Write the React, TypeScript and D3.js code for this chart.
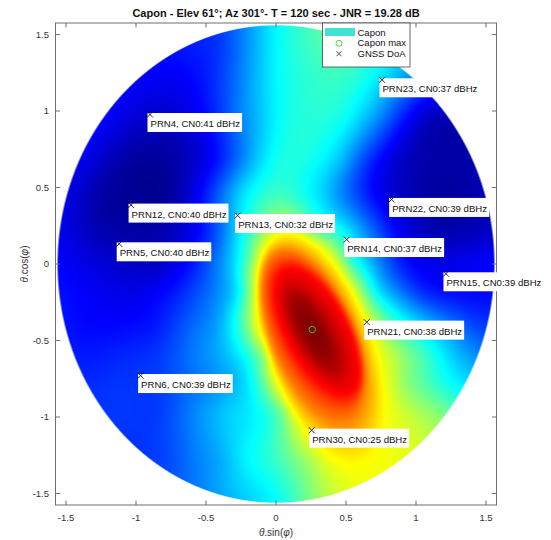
import React, { useMemo } from "react";
import * as d3 from "d3";

// ---- data ----
const titleText = "Capon - Elev 61°; Az 301°- T = 120 sec - JNR = 19.28 dB";
const tickValues = [-1.5, -1, -0.5, 0, 0.5, 1, 1.5];
const tickLabels = ["-1.5", "-1", "-0.5", "0", "0.5", "1", "1.5"];

// Capon spectrum (normalised colour index 0..1) sampled along horizontal cuts
// of the sky plane: one entry of cutY per cut, with its abscissae and values.
const cutY = [1.5, 1.4, 1.25, 0.95, 0.68, 0.46, 0.2, 0.03, -0.19, -0.43, -0.63, -0.78, -0.95, -1.28, -1.5];
const cutX: number[][] = [
  [-0.4, -0.2, 0, 0.2, 0.4],
  [-0.6],
  [-0.85, -0.5, -0.25, 0, 0.25, 0.5, 0.75, 0.95],
  [-1.2, -0.86, -0.5, -0.26, -0.1, 0, 0.25, 0.5, 0.6, 0.75, 0.9, 1.1],
  [-1.35, -1.1, -0.8, -0.6, -0.4, -0.2, 0, 0.2, 0.45, 0.65, 0.9, 1.15, 1.35],
  [-1.5, -1.25, -1.0, -0.75, -0.57, -0.43, -0.26, -0.07, 0.17, 0.36, 0.53, 0.72, 1.0, 1.25, 1.45],
  [-1.5, -1.25, -1.0, -0.75, -0.57, -0.43, -0.26, -0.14, -0.02, 0.05, 0.17, 0.29, 0.46, 0.6, 0.74, 0.93, 1.2, 1.45],
  [-1.53, -1.22, -0.86, -0.57, -0.43, -0.31, -0.2, -0.07, 0.0, 0.05, 0.17, 0.29, 0.41, 0.55, 0.7, 0.89, 1.1, 1.3, 1.48],
  [-1.46, -0.86, -0.57, -0.38, -0.26, -0.16, -0.12, -0.05, 0.02, 0.14, 0.26, 0.36, 0.45, 0.57, 0.71, 0.86, 1.05, 1.2, 1.43],
  [-1.34, -0.86, -0.57, -0.43, -0.31, -0.21, -0.14, -0.07, 0.0, 0.12, 0.26, 0.38, 0.48, 0.57, 0.63, 0.79, 1.0, 1.24, 1.43],
  [-1.4, -1.0, -0.57, -0.38, -0.21, -0.09, -0.02, 0.07, 0.17, 0.31, 0.45, 0.6, 0.71, 0.86, 1.05, 1.3],
  [-1.22, -0.86, -0.5, -0.31, -0.17, -0.08, 0.0, 0.14, 0.38, 0.6, 0.71, 0.95, 1.19],
  [-1.1, -0.85, -0.57, -0.33, -0.09, 0.05, 0.14, 0.24, 0.38, 0.5, 0.62, 0.74, 0.95, 1.15],
  [-0.75, -0.57, -0.4, -0.21, 0.02, 0.26, 0.5, 0.74, 0.95],
  [-0.4, 0, 0.24, 0.4],
];
const cutV: number[][] = [
  [0.18, 0.27, 0.37, 0.43, 0.47],
  [0.15],
  [0.12, 0.15, 0.25, 0.37, 0.42, 0.43, 0.36, 0.28],
  [0.12, 0.07, 0.13, 0.25, 0.32, 0.37, 0.41, 0.38, 0.33, 0.25, 0.15, 0.06],
  [0.1, 0.04, 0.03, 0.07, 0.15, 0.28, 0.39, 0.4, 0.32, 0.18, 0.07, 0.04, 0.04],
  [0.1, 0.04, 0.02, 0.03, 0.11, 0.2, 0.33, 0.42, 0.4, 0.32, 0.22, 0.12, 0.05, 0.03, 0.05],
  [0.1, 0.05, 0.04, 0.06, 0.12, 0.2, 0.36, 0.47, 0.55, 0.6, 0.55, 0.48, 0.4, 0.3, 0.2, 0.1, 0.05, 0.06],
  [0.12, 0.08, 0.06, 0.15, 0.24, 0.33, 0.45, 0.58, 0.72, 0.78, 0.68, 0.6, 0.5, 0.4, 0.28, 0.15, 0.1, 0.1, 0.12],
  [0.13, 0.12, 0.2, 0.28, 0.37, 0.5, 0.62, 0.75, 0.87, 0.94, 0.9, 0.78, 0.63, 0.5, 0.38, 0.27, 0.17, 0.14, 0.13],
  [0.13, 0.15, 0.24, 0.28, 0.37, 0.47, 0.6, 0.73, 0.85, 0.95, 1.0, 0.95, 0.87, 0.75, 0.64, 0.5, 0.38, 0.27, 0.2],
  [0.15, 0.17, 0.25, 0.3, 0.38, 0.5, 0.62, 0.75, 0.87, 0.97, 0.9, 0.78, 0.65, 0.55, 0.45, 0.32],
  [0.17, 0.18, 0.25, 0.3, 0.38, 0.48, 0.57, 0.72, 0.92, 0.7, 0.6, 0.5, 0.4],
  [0.18, 0.18, 0.26, 0.33, 0.4, 0.5, 0.58, 0.65, 0.75, 0.8, 0.72, 0.63, 0.56, 0.5],
  [0.2, 0.25, 0.29, 0.37, 0.44, 0.55, 0.62, 0.62, 0.6],
  [0.29, 0.38, 0.5, 0.57],
];

// Main lobe: nested contour ellipses (level, centre, semi-axes, tilt in degrees)
const lobePeak = 1.0;
const lobeLevel = [0.95, 0.875, 0.75, 0.625];
const lobeCX = [0.265, 0.3, 0.26, 0.32];
const lobeCY = [-0.44, -0.44, -0.47, -0.555];
const lobeA = [0.3, 0.472, 0.608, 0.803];
const lobeB = [0.113, 0.22, 0.292, 0.368];
const lobeTilt = [-58, -58, -64.7, -68];

const horizonRadius = 1.56;

// GNSS directions of arrival
const satPrn = [4, 12, 13, 5, 23, 22, 14, 15, 21, 6, 30];
const satCn0 = [41, 40, 32, 40, 37, 39, 37, 39, 38, 39, 25];
const satX = [-0.9, -1.035, -0.274, -1.12, 0.757, 0.826, 0.505, 1.214, 0.648, -0.967, 0.255];
const satY = [0.977, 0.385, 0.317, 0.132, 1.204, 0.422, 0.16, -0.064, -0.38, -0.729, -1.086];

const caponMaxX = 0.259;
const caponMaxY = -0.428;

const legendLabels = ["Capon", "Capon max", "GNSS DoA"];

// ---- helpers ----
const FONT = "'Liberation Sans', Arial, Helvetica, sans-serif";

function jet(v: number): [number, number, number] {
  const c = (t: number) => Math.max(0, Math.min(1, t));
  return [
    Math.round(255 * c(1.5 - Math.abs(4 * v - 3))),
    Math.round(255 * c(1.5 - Math.abs(4 * v - 2))),
    Math.round(255 * c(1.5 - Math.abs(4 * v - 1))),
  ];
}

// normalised elliptical radius of (X, Y) for contour k (1 on the contour)
function ellipseRadius(k: number, X: number, Y: number) {
  const t = (lobeTilt[k] * Math.PI) / 180;
  const dx = X - lobeCX[k];
  const dy = Y - lobeCY[k];
  const u = dx * Math.cos(t) + dy * Math.sin(t);
  const v = -dx * Math.sin(t) + dy * Math.cos(t);
  return Math.sqrt((u / lobeA[k]) ** 2 + (v / lobeB[k]) ** 2);
}

function lobeValue(X: number, Y: number): number | null {
  const n = lobeLevel.length;
  const s = lobeLevel.map((_, k) => ellipseRadius(k, X, Y));
  if (s[n - 1] > 1) return null;
  if (s[0] <= 1) return lobePeak - (lobePeak - lobeLevel[0]) * s[0] * s[0];
  let k = 1;
  while (k < n && s[k] > 1) k++;
  const inner = s[k - 1] - 1;
  const outer = 1 - s[k];
  return lobeLevel[k] + ((lobeLevel[k - 1] - lobeLevel[k]) * outer) / (outer + inner);
}

// Smoothing thin-plate spline through scattered samples
function fitThinPlate(px: number[], py: number[], pv: number[], smooth: number) {
  const n = px.length;
  const m = n + 3;
  const kern = (r2: number) => (r2 > 1e-12 ? 0.5 * r2 * Math.log(r2) : 0);
  const A: number[][] = [];
  for (let i = 0; i < m; i++) A.push(new Array(m + 1).fill(0));
  for (let i = 0; i < n; i++) {
    for (let j = 0; j < n; j++) {
      const dx = px[i] - px[j];
      const dy = py[i] - py[j];
      A[i][j] = kern(dx * dx + dy * dy) + (i === j ? smooth : 0);
    }
    A[i][n] = 1;
    A[i][n + 1] = px[i];
    A[i][n + 2] = py[i];
    A[n][i] = 1;
    A[n + 1][i] = px[i];
    A[n + 2][i] = py[i];
    A[i][m] = pv[i];
  }
  for (let c = 0; c < m; c++) {
    let piv = c;
    for (let r = c + 1; r < m; r++) if (Math.abs(A[r][c]) > Math.abs(A[piv][c])) piv = r;
    [A[c], A[piv]] = [A[piv], A[c]];
    const d = A[c][c];
    for (let r = c + 1; r < m; r++) {
      const f = A[r][c] / d;
      if (f === 0) continue;
      for (let k = c; k <= m; k++) A[r][k] -= f * A[c][k];
    }
  }
  const w = new Array(m).fill(0);
  for (let r = m - 1; r >= 0; r--) {
    let s = A[r][m];
    for (let k = r + 1; k < m; k++) s -= A[r][k] * w[k];
    w[r] = s / A[r][r];
  }
  return (X: number, Y: number) => {
    let s = w[n] + w[n + 1] * X + w[n + 2] * Y;
    for (let i = 0; i < n; i++) {
      const dx = X - px[i];
      const dy = Y - py[i];
      s += w[i] * kern(dx * dx + dy * dy);
    }
    return s;
  };
}

// separable gaussian blur of a W x H scalar field
function blurField(f: Float32Array, W: number, H: number, sigma: number) {
  const rad = Math.ceil(sigma * 3);
  const k: number[] = [];
  let sum = 0;
  for (let i = -rad; i <= rad; i++) {
    const v = Math.exp(-(i * i) / (2 * sigma * sigma));
    k.push(v);
    sum += v;
  }
  for (let i = 0; i < k.length; i++) k[i] /= sum;
  const tmp = new Float32Array(W * H);
  const out = new Float32Array(W * H);
  for (let j = 0; j < H; j++) {
    for (let i = 0; i < W; i++) {
      let s = 0;
      for (let t = -rad; t <= rad; t++) {
        const ii = Math.max(0, Math.min(W - 1, i + t));
        s += k[t + rad] * f[j * W + ii];
      }
      tmp[j * W + i] = s;
    }
  }
  for (let j = 0; j < H; j++) {
    for (let i = 0; i < W; i++) {
      let s = 0;
      for (let t = -rad; t <= rad; t++) {
        const jj = Math.max(0, Math.min(H - 1, j + t));
        s += k[t + rad] * tmp[jj * W + i];
      }
      out[j * W + i] = s;
    }
  }
  return out;
}

function renderSpectrum(
  x: d3.ScaleLinear<number, number>,
  y: d3.ScaleLinear<number, number>
) {
  const outer = lobeLevel.length - 1;
  const px: number[] = [];
  const py: number[] = [];
  const pv: number[] = [];
  // background samples lying outside the outer lobe contour
  cutY.forEach((cy, k) => {
    cutX[k].forEach((cx, i) => {
      if (ellipseRadius(outer, cx, cy) < 1.08) return;
      px.push(cx);
      py.push(cy);
      pv.push(cutV[k][i]);
    });
  });
  // outer lobe contour itself
  const t = (lobeTilt[outer] * Math.PI) / 180;
  for (let q = 0; q < 20; q++) {
    const a = (q / 20) * 2 * Math.PI;
    const u = lobeA[outer] * Math.cos(a);
    const v = lobeB[outer] * Math.sin(a);
    px.push(lobeCX[outer] + u * Math.cos(t) - v * Math.sin(t));
    py.push(lobeCY[outer] + u * Math.sin(t) + v * Math.cos(t));
    pv.push(lobeLevel[outer]);
  }
  const spline = fitThinPlate(px, py, pv, 0.003);

  const [x0, x1] = x.range();
  const [y1, y0] = y.range();
  const W = Math.round(x1 - x0);
  const H = Math.round(y1 - y0);
  const raw = new Float32Array(W * H);
  for (let j = 0; j < H; j++) {
    const Y = y.invert(y0 + j + 0.5);
    for (let i = 0; i < W; i++) {
      const X = x.invert(x0 + i + 0.5);
      const lv = lobeValue(X, Y);
      raw[j * W + i] = lv !== null ? lv : Math.max(-0.1, Math.min(0.7, spline(X, Y)));
    }
  }
  const field = blurField(raw, W, H, 3);

  const canvas = document.createElement("canvas");
  canvas.width = W;
  canvas.height = H;
  const ctx = canvas.getContext("2d")!;
  const img = ctx.createImageData(W, H);
  const pxPerUnit = (x1 - x0) / (x.domain()[1] - x.domain()[0]);
  for (let j = 0; j < H; j++) {
    const Y = y.invert(y0 + j + 0.5);
    for (let i = 0; i < W; i++) {
      const X = x.invert(x0 + i + 0.5);
      const r = Math.sqrt(X * X + Y * Y);
      const a = Math.max(0, Math.min(1, (horizonRadius - r) * pxPerUnit + 0.5));
      if (a <= 0) continue;
      const [R, G, B] = jet(Math.max(0, Math.min(1, field[j * W + i])));
      const o = (j * W + i) * 4;
      img.data[o] = R;
      img.data[o + 1] = G;
      img.data[o + 2] = B;
      img.data[o + 3] = Math.round(255 * a);
    }
  }
  ctx.putImageData(img, 0, 0);
  return { href: canvas.toDataURL(), x: x0, y: y0, w: W, h: H };
}

function measure(text: string, size: number) {
  const c = document.createElement("canvas").getContext("2d")!;
  c.font = `${size}px 'Liberation Sans'`;
  return c.measureText(text).width;
}

export default function App() {
  const x = d3.scaleLinear().domain([-1.575, 1.575]).range([55.5, 496.5]);
  const y = d3.scaleLinear().domain([-1.575, 1.575]).range([505, 23]);
  const heat = useMemo(() => renderSpectrum(x, y), []);

  const axisColor = "#6e6e6e";
  const textColor = "#333";
  const labelSize = 9.6;
  const tickLen = 4.5;
  const [xl, xr] = x.range();
  const [yb, yt] = y.range();

  return (
    <svg
      width={551}
      height={540}
      style={{ position: "absolute", left: 0, top: 0, background: "#fff" }}
      fontFamily={FONT}
    >
      <rect x={0} y={0} width={551} height={540} fill="#fff" />
      <image href={heat.href} x={heat.x} y={heat.y} width={heat.w} height={heat.h} />

      {/* axes box and ticks */}
      <rect x={xl} y={yt} width={xr - xl} height={yb - yt} fill="none" stroke={axisColor} strokeWidth={1} />
      {tickValues.map((t) => (
        <g key={"xt" + t} stroke={axisColor} strokeWidth={1}>
          <line x1={x(t)} x2={x(t)} y1={yb} y2={yb - tickLen} />
          <line x1={x(t)} x2={x(t)} y1={yt} y2={yt + tickLen} />
          <line x1={xl} x2={xl + tickLen} y1={y(t)} y2={y(t)} />
          <line x1={xr} x2={xr - tickLen} y1={y(t)} y2={y(t)} />
        </g>
      ))}
      {tickValues.map((t, i) => (
        <text key={"xl" + t} x={x(t)} y={520.5} fontSize={9.5} fill={textColor} textAnchor="middle">
          {tickLabels[i]}
        </text>
      ))}
      {tickValues.map((t, i) => (
        <text key={"yl" + t} x={49} y={y(t) + 3.4} fontSize={9.5} fill={textColor} textAnchor="end">
          {tickLabels[i]}
        </text>
      ))}

      {/* axis titles */}
      <text x={276} y={535.5} fontSize={10} fill={textColor} textAnchor="middle">
        <tspan fontStyle="italic">θ</tspan>
        <tspan>.sin(</tspan>
        <tspan fontStyle="italic">φ</tspan>
        <tspan>)</tspan>
      </text>
      <text
        transform={`translate(28, ${y(0)}) rotate(-90)`}
        fontSize={10}
        fill={textColor}
        textAnchor="middle"
      >
        <tspan fontStyle="italic">θ</tspan>
        <tspan>.cos(</tspan>
        <tspan fontStyle="italic">φ</tspan>
        <tspan>)</tspan>
      </text>

      {/* title */}
      <text x={276} y={17} fontSize={11} fontWeight="bold" fill="#111" textAnchor="middle">
        {titleText}
      </text>

      {/* GNSS directions with labels */}
      {satPrn.map((p, i) => {
        const label = `PRN${p}, CN0:${satCn0[i]} dBHz`;
        const mx = x(satX[i]);
        const my = y(satY[i]);
        const w = measure(label, labelSize);
        return (
          <g key={"sat" + p}>
            <rect x={mx - 2.5} y={my - 1.5} width={w + 5} height={19} fill="#fff" />
            <text x={mx + 0.5} y={my + 12.5} fontSize={labelSize} fill="#111">
              {label}
            </text>
            <path
              d={`M${mx - 3},${my - 3}L${mx + 3},${my + 3}M${mx - 3},${my + 3}L${mx + 3},${my - 3}`}
              stroke="#111"
              strokeWidth={0.9}
            />
          </g>
        );
      })}

      {/* spectrum maximum */}
      <circle cx={x(caponMaxX)} cy={y(caponMaxY)} r={3.2} fill="none" stroke="#4fbf2a" strokeWidth={1} />

      {/* legend */}
      <g>
        <rect x={322.5} y={23} width={87.5} height={44} fill="#fff" stroke="#444" strokeWidth={0.8} />
        <rect x={325} y={28} width={30} height={8} fill="#3fe3d3" />
        <circle cx={339} cy={43.3} r={3} fill="none" stroke="#55d040" strokeWidth={1} />
        <path d="M336.5,51.2L341.5,56.2M336.5,56.2L341.5,51.2" stroke="#222" strokeWidth={0.8} />
        {legendLabels.map((l, i) => (
          <text key={l} x={357.5} y={35.5 + i * 10.6} fontSize={9.5} fill="#111">
            {l}
          </text>
        ))}
      </g>
    </svg>
  );
}
